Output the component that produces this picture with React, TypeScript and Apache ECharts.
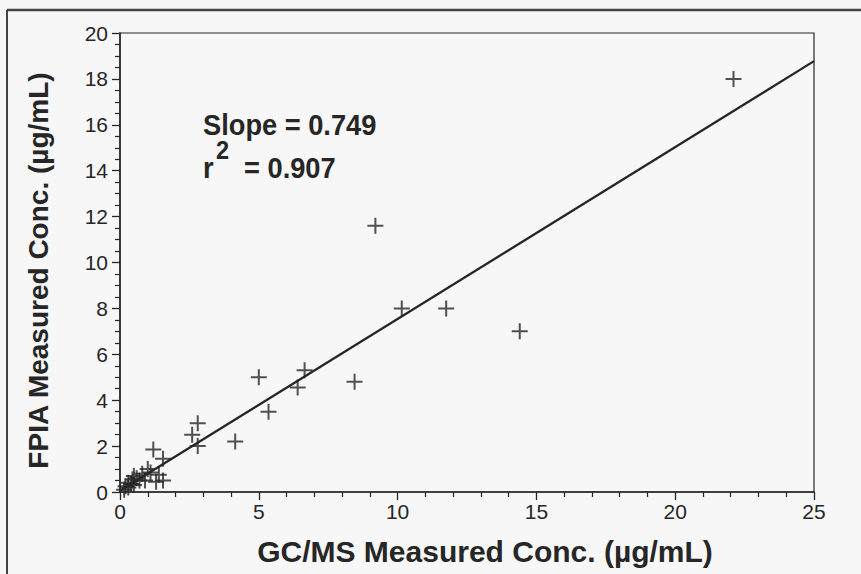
import React, { useEffect, useRef } from "react";
import * as echarts from "echarts";

// GC/MS vs FPIA measured concentrations (µg/mL)
const GCMS = [
  0.15, 0.2, 0.3, 0.3, 0.4, 0.45, 0.5, 0.5, 0.6, 0.7, 0.8, 0.9, 1.0, 1.1, 1.3, 1.4, 1.55,
  1.2, 1.55, 2.6, 2.8, 2.8, 4.15, 5.0, 5.35, 6.4, 6.65, 8.45, 9.2, 10.15, 11.75, 14.4, 22.1,
];
const FPIA = [
  0.1, 0.25, 0.2, 0.4, 0.35, 0.55, 0.7, 0.3, 0.6, 0.5, 0.8, 0.5, 1.0, 0.85, 0.45, 0.75, 0.5,
  1.85, 1.45, 2.5, 3.0, 2.0, 2.2, 5.0, 3.5, 4.55, 5.3, 4.8, 11.6, 8.0, 8.0, 7.0, 18.0,
];

// Least-squares fit reported on the chart
const SLOPE = 0.749;
const INTERCEPT = 0.05;
const R2 = 0.907;

const X_MIN = 0;
const X_MAX = 25;
const X_STEP = 5;
const Y_MIN = 0;
const Y_MAX = 20;
const Y_STEP = 2;

const X_TITLE = "GC/MS Measured Conc. (\u00b5g/mL)";
const Y_TITLE = "FPIA Measured Conc. (\u00b5g/mL)";

const INK = "#262626";
const BG = "#f7f7f7";
const FONT = '"Liberation Sans", Arial, Helvetica, sans-serif';

const PLUS = "path://M-1,-8 h2 v7 h7 v2 h-7 v7 h-2 v-7 h-7 v-2 h7 z";

export default function App() {
  const ref = useRef<HTMLDivElement>(null);

  useEffect(() => {
    if (!ref.current) return;
    const chart = echarts.init(ref.current, undefined, { renderer: "svg" });

    const points = GCMS.map((x, i) => [x, FPIA[i]]);
    const fit = [
      [X_MIN, SLOPE * X_MIN + INTERCEPT],
      [X_MAX, SLOPE * X_MAX + INTERCEPT],
    ];

    const boldText = (text: string, x: number, y: number, size: number) => ({
      type: "text",
      x,
      y,
      scaleX: 0.94,
      style: {
        text,
        font: `bold ${size}px ${FONT}`,
        fill: INK,
        verticalAlign: "middle",
      },
    });

    chart.setOption({
      animation: false,
      backgroundColor: BG,
      textStyle: { fontFamily: FONT },
      grid: {
        left: 120,
        right: 47,
        top: 33,
        bottom: 82,
        show: true,
        borderColor: INK,
        borderWidth: 1.2,
        backgroundColor: "transparent",
      },
      xAxis: {
        type: "value",
        min: X_MIN,
        max: X_MAX,
        interval: X_STEP,
        name: X_TITLE,
        nameLocation: "middle",
        nameGap: 44,
        nameTextStyle: {
          fontSize: 30,
          fontWeight: "bold",
          color: INK,
          fontFamily: FONT,
          padding: [0, 0, 0, 36],
        },
        axisLine: { show: true, lineStyle: { color: INK, width: 1.5 } },
        axisTick: { show: true, length: 8, lineStyle: { color: INK, width: 1.3 } },
        minorTick: { show: true, splitNumber: 5, length: 5, lineStyle: { color: INK, width: 1.2 } },
        axisLabel: { fontSize: 21, color: INK, margin: 9, fontFamily: FONT },
        splitLine: { show: false },
      },
      yAxis: {
        type: "value",
        min: Y_MIN,
        max: Y_MAX,
        interval: Y_STEP,
        name: Y_TITLE,
        nameLocation: "middle",
        nameRotate: 90,
        nameGap: 68,
        nameTextStyle: {
          fontSize: 28,
          fontWeight: "bold",
          color: INK,
          fontFamily: FONT,
          padding: [0, 16, 0, 0],
        },
        axisLine: { show: true, lineStyle: { color: INK, width: 1.5 } },
        axisTick: { show: true, length: 8, lineStyle: { color: INK, width: 1.3 } },
        minorTick: { show: true, splitNumber: 4, length: 5, lineStyle: { color: INK, width: 1.2 } },
        axisLabel: { fontSize: 21, color: INK, margin: 12, fontFamily: FONT },
        splitLine: { show: false },
      },
      series: [
        {
          type: "line",
          data: fit,
          symbol: "none",
          lineStyle: { color: INK, width: 2.3 },
          z: 2,
        },
        {
          type: "scatter",
          data: points,
          symbol: PLUS,
          symbolSize: 16,
          itemStyle: { color: INK },
          z: 3,
        },
      ],
      graphic: [
        // outer frame
        {
          type: "line",
          shape: { x1: 7, y1: 10, x2: 861, y2: 10 },
          style: { stroke: "#444", lineWidth: 2.5 },
        },
        {
          type: "line",
          shape: { x1: 7, y1: 10, x2: 7, y2: 574 },
          style: { stroke: "#444", lineWidth: 2 },
        },
        boldText(`Slope = ${SLOPE.toFixed(3)}`, 203, 125, 29),
        boldText("r", 203, 168, 29),
        boldText("2", 216, 150, 25),
        boldText(`= ${R2.toFixed(3)}`, 244, 168, 29),
      ],
    });

    return () => chart.dispose();
  }, []);

  return (
    <div
      ref={ref}
      style={{ position: "fixed", left: 0, top: 0, width: 861, height: 574, background: BG }}
    />
  );
}
